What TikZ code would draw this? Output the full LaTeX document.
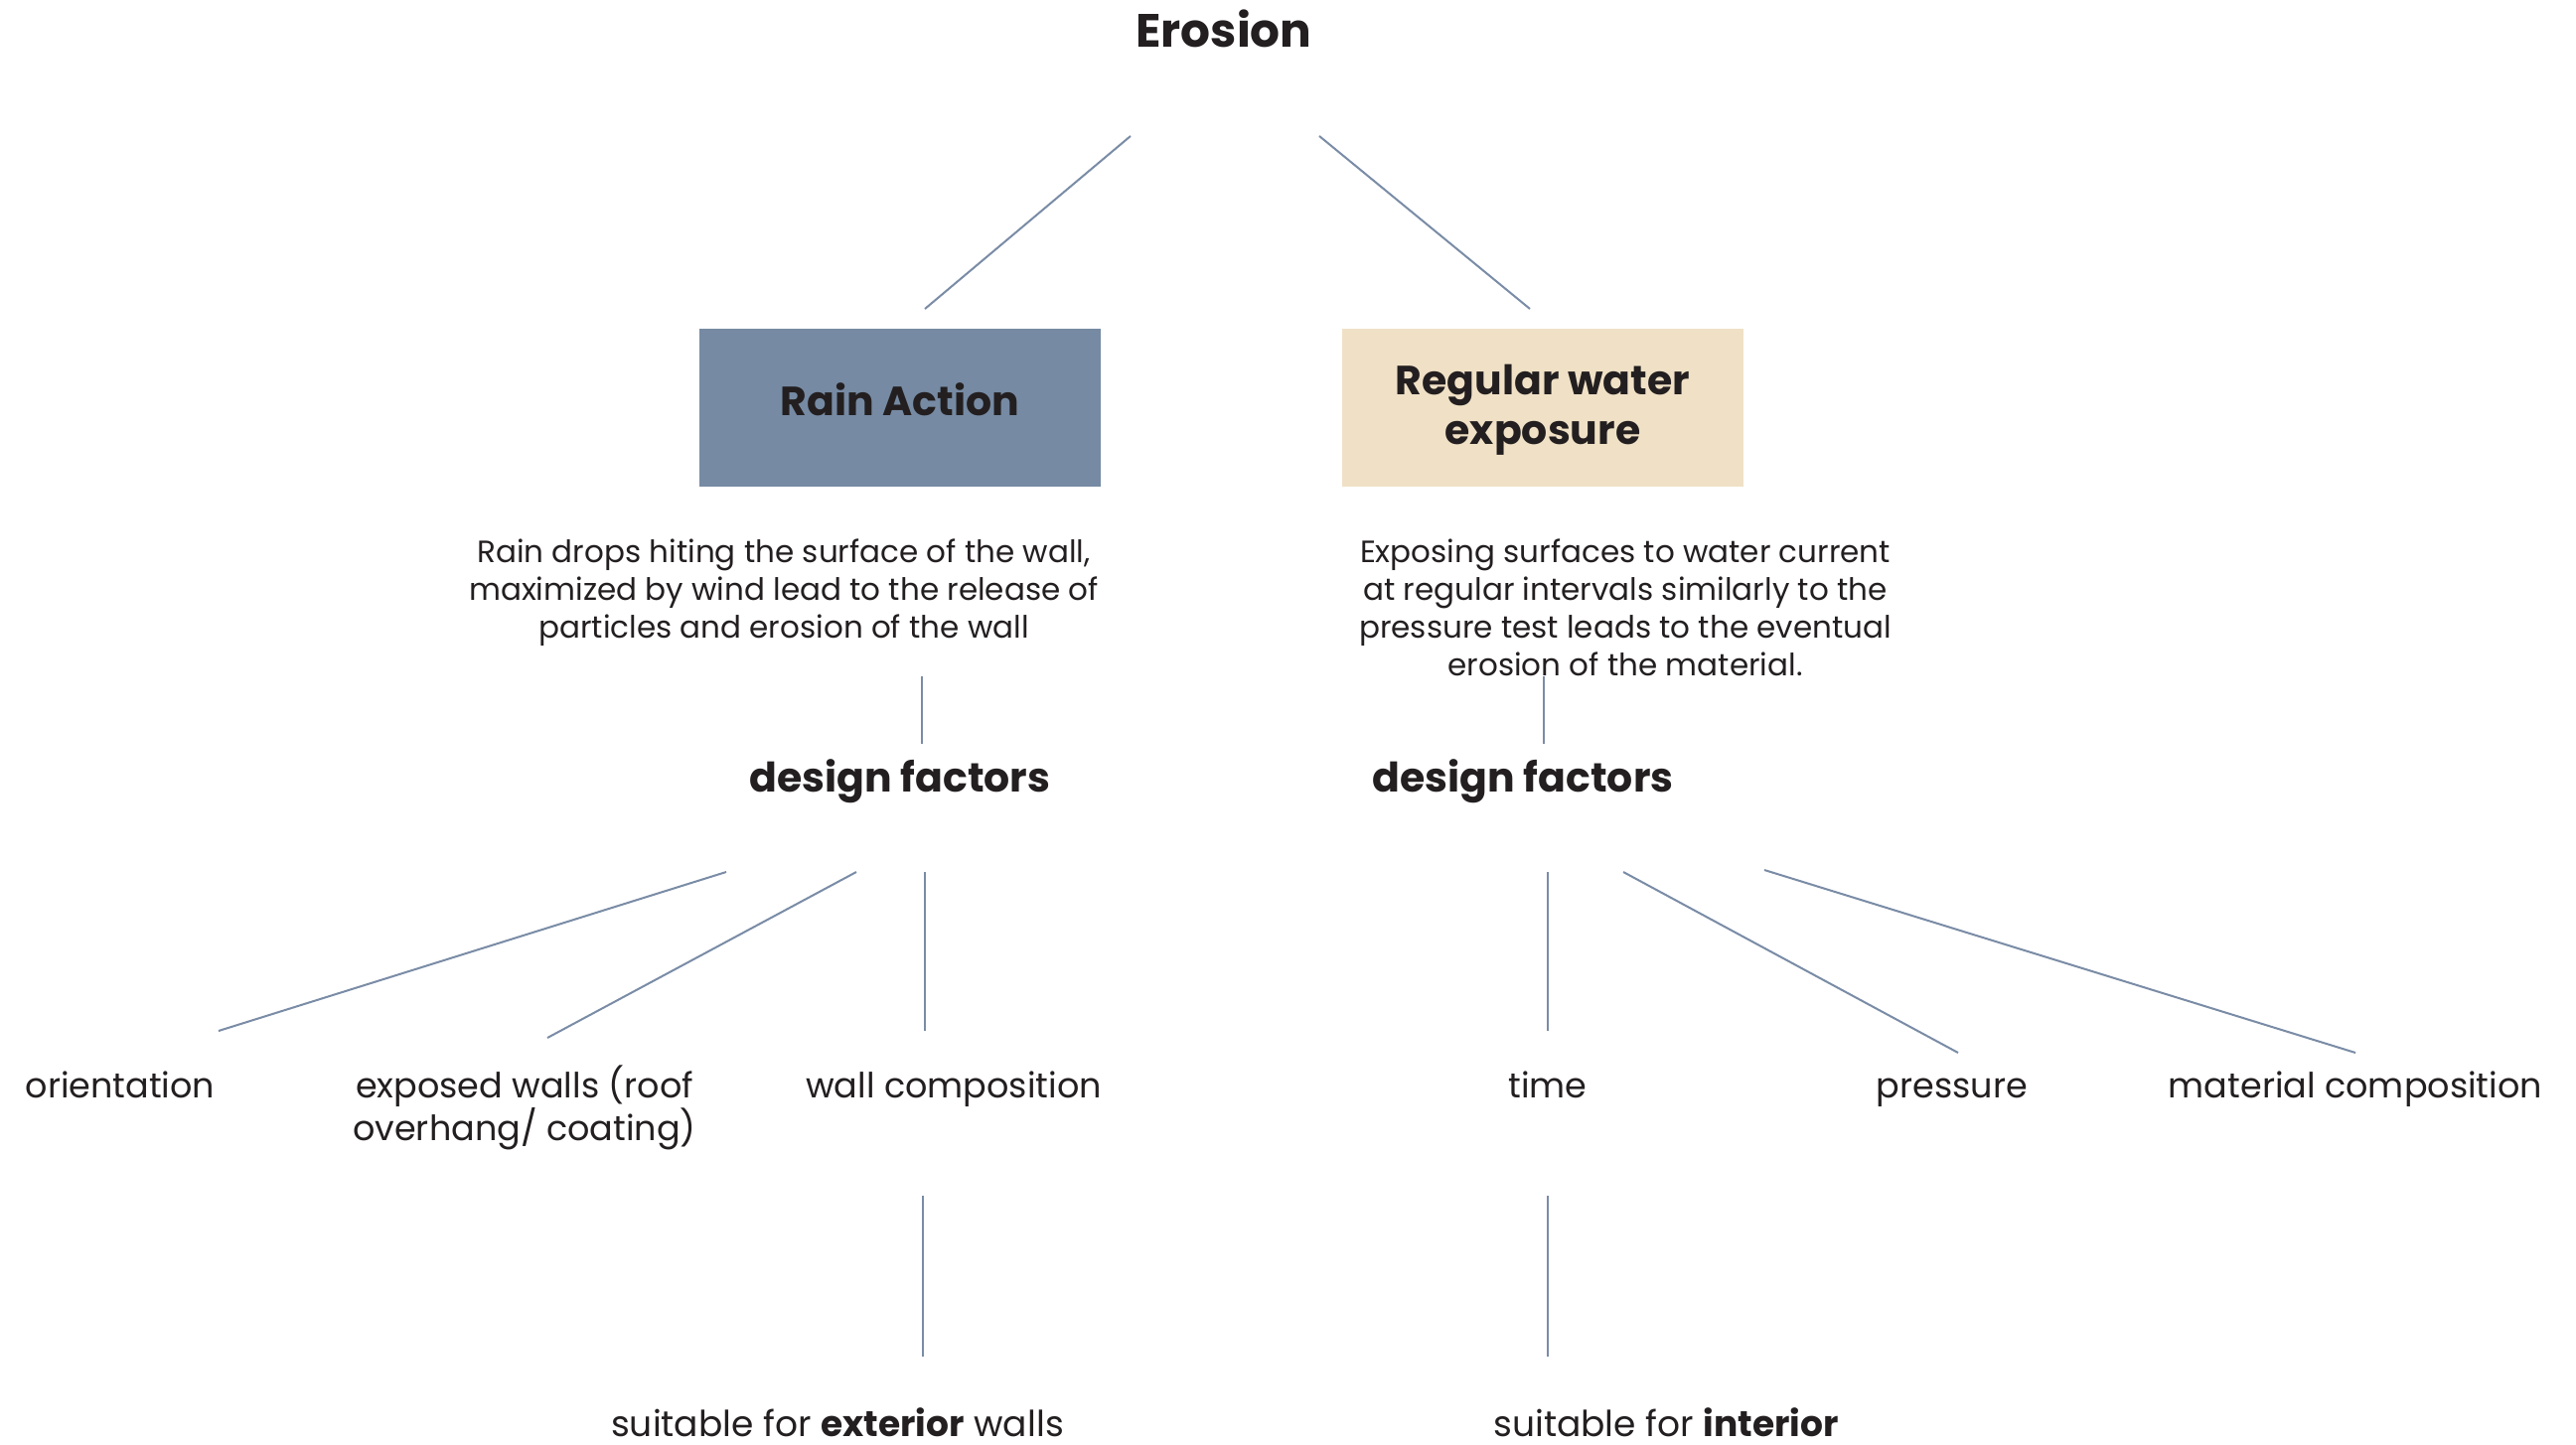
\documentclass[tikz,border=0pt]{standalone}
\usepackage{fontspec}
\setmainfont{Poppins}
\definecolor{linec}{HTML}{7A8CA6}
\definecolor{rainc}{HTML}{768AA3}
\definecolor{waterc}{HTML}{F0E1C6}
\definecolor{txt}{HTML}{231F20}
\begin{document}
\begin{tikzpicture}[x=1pt,y=-1pt,
  every node/.style={text=txt, inner sep=0pt},
  conn/.style={draw=linec, line width=2pt},
  title/.style={anchor=base, font=\fontsize{47}{58}\selectfont\bfseries},
  boxnode/.style={minimum width=404pt, minimum height=159pt, align=center, font=\fontsize{41}{50}\selectfont\bfseries},
  boxtext/.style={align=center, anchor=base, font=\fontsize{41}{50}\selectfont\bfseries},
  desc/.style={anchor=base, align=center, font=\fontsize{31}{38}\selectfont},
  factor/.style={anchor=base, font=\fontsize{41}{50}\selectfont\bfseries},
  leaf/.style={anchor=base, align=center, font=\fontsize{35}{43}\selectfont},
  bottomleaf/.style={anchor=base, font=\fontsize{36}{43}\selectfont}
]
\useasboundingbox (0,0) rectangle (2593,1454);
\fill[white] (0,0) rectangle (2593,1454);

\node[title] (ero) at (1232,47) {Erosion};
\node[boxnode, fill=rainc] (rain) at (906,410) {};
\node[boxtext] (raint) at (906,418) {Rain Action};
\node[boxnode, fill=waterc] (water) at (1553,410) {};
\node[boxtext] (watert) at (1553,447) {Regular water\\exposure};
\node[desc] (dl) at (789,642) {Rain drops hiting the surface of the wall,\\maximized by wind lead to the release of\\particles and erosion of the wall};
\node[desc] (dr) at (1636,680) {Exposing surfaces to water current\\at regular intervals similarly to the\\pressure test leads to the eventual\\erosion of the material.};
\node[factor] (fl) at (906,797) {design factors};
\node[factor] (fr) at (1533,797) {design factors};
\node[leaf] (o1) at (121,1105) {orientation};
\node[leaf] (o2) at (528,1148) {exposed walls (roof\\overhang/ coating)};
\node[leaf] (o3) at (960,1105) {wall composition};
\node[leaf] (o4) at (1558,1105) {time};
\node[leaf] (o5) at (1965,1105) {pressure};
\node[leaf] (o6) at (2371,1105) {material composition};
\node[bottomleaf] (s1) at (843,1446) {suitable for \textbf{exterior} walls};
\node[bottomleaf] (s2) at (1677,1446) {suitable for \textbf{interior}};

% connector end points
\coordinate (e1) at (1138,137); \coordinate (r1) at (931,311);
\coordinate (e2) at (1328,137); \coordinate (w1) at (1540,311);
\coordinate (dl1) at (928,681); \coordinate (fl1) at (928,749);
\coordinate (dr1) at (1554,681); \coordinate (fr1) at (1554,749);
\coordinate (fla) at (731,878); \coordinate (o1a) at (220,1038);
\coordinate (flb) at (862,878); \coordinate (o2a) at (551,1045);
\coordinate (flc) at (931,878); \coordinate (o3a) at (931,1038);
\coordinate (fra) at (1558,878); \coordinate (o4a) at (1558,1038);
\coordinate (frb) at (1634,878); \coordinate (o5a) at (1971,1060);
\coordinate (frc) at (1776,876); \coordinate (o6a) at (2371,1060);
\coordinate (o3b) at (929,1204); \coordinate (s1a) at (929,1366);
\coordinate (o4b) at (1558,1204); \coordinate (s2a) at (1558,1366);

\draw[conn] (e1) -- (r1);
\draw[conn] (e2) -- (w1);
\draw[conn] (dl1) -- (fl1);
\draw[conn] (dr1) -- (fr1);
\draw[conn] (fla) -- (o1a);
\draw[conn] (flb) -- (o2a);
\draw[conn] (flc) -- (o3a);
\draw[conn] (fra) -- (o4a);
\draw[conn] (frb) -- (o5a);
\draw[conn] (frc) -- (o6a);
\draw[conn] (o3b) -- (s1a);
\draw[conn] (o4b) -- (s2a);
\end{tikzpicture}
\end{document}
